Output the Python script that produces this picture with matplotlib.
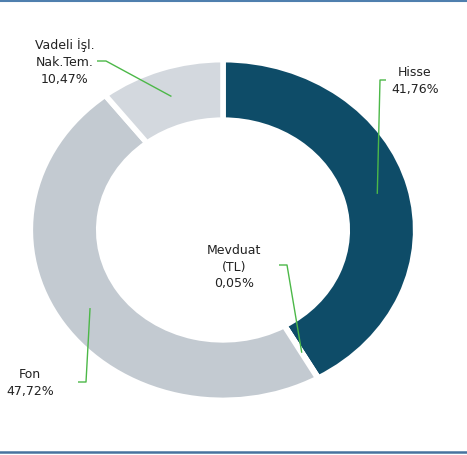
import numpy as np
import matplotlib.pyplot as plt
from matplotlib.lines import Line2D

labels = ['Hisse', 'Mevduat\n(TL)', 'Fon', 'Vadeli İşl.\nNak.Tem.']
values = [41.76, 0.05, 47.72, 10.47]
value_text = ['41,76%', '0,05%', '47,72%', '10,47%']
colors = ['#0e4c68', '#6f7f8c', '#c3cad1', '#d3d8de']

# label centres and leader-line elbows, in pixels of the 467x455 image
label_pos = [(415, 81), (234, 267), (30, 383), (65, 62)]
elbow = [((386, 80), (380, 80)), ((279, 265), (287, 265)),
         ((78, 382), (86, 382)), ((97, 61), (106, 61))]

W, H = 467, 455
CX, CY, RX, RY = 223, 230, 190, 168


def to_data(p):
    return ((p[0] - CX) / RX, (CY - p[1]) / RY)


def main():
    fig = plt.figure(figsize=(W / 100, H / 100), dpi=100)
    ax = fig.add_axes([0, 0, 1, 1])

    wedges, _ = ax.pie(values, colors=colors, startangle=90, counterclock=False,
                       radius=1.014, wedgeprops=dict(width=0.36, edgecolor='white', linewidth=4))
    ax.set_aspect('auto')
    ax.set_xlim(-CX / RX, (W - CX) / RX)
    ax.set_ylim(-(H - CY) / RY, CY / RY)
    ax.axis('off')

    for w, lab, val, pos, (e1, e2) in zip(wedges, labels, value_text, label_pos, elbow):
        ang = np.deg2rad((w.theta1 + w.theta2) / 2)
        pt = (0.84 * np.cos(ang), 0.84 * np.sin(ang))
        a, b = to_data(e1), to_data(e2)
        ax.plot([a[0], b[0], pt[0]], [a[1], b[1], pt[1]], color='#4cb848', lw=1, solid_capstyle='butt')
        tx, ty = to_data(pos)
        ax.text(tx, ty, lab + '\n' + val, ha='center', va='center', fontsize=9,
                color='#222222', linespacing=1.4)

    fig.add_artist(Line2D([0, 1], [1 - 1 / H, 1 - 1 / H], color='#4f7fae', lw=1.5, transform=fig.transFigure))
    fig.add_artist(Line2D([0, 1], [3.5 / H, 3.5 / H], color='#46739f', lw=1.8, transform=fig.transFigure))

    fig.savefig('out.png', dpi=100, facecolor='white')


if __name__ == '__main__':
    main()
